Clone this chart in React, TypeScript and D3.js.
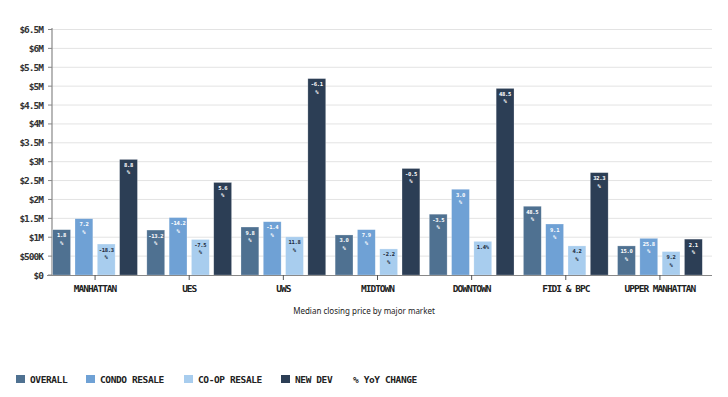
import React from 'react';
import * as d3 from 'd3';

// median closing price in $M
const markets = ['MANHATTAN', 'UES', 'UWS', 'MIDTOWN', 'DOWNTOWN', 'FIDI & BPC', 'UPPER MANHATTAN'];
const series = ['OVERALL', 'CONDO RESALE', 'CO-OP RESALE', 'NEW DEV'];
const overall = [1.2, 1.19, 1.27, 1.06, 1.61, 1.82, 0.77];
const condo = [1.49, 1.52, 1.41, 1.2, 2.27, 1.35, 0.97];
const coop = [0.82, 0.94, 1.01, 0.69, 0.89, 0.77, 0.62];
const newDev = [3.06, 2.45, 5.2, 2.82, 4.94, 2.71, 0.95];
// % YoY change labels
const overallYoY = ['1.8', '-13.2', '9.8', '3.0', '-3.5', '48.5', '15.0'];
const condoYoY = ['7.2', '-14.2', '-1.4', '7.9', '3.0', '9.1', '25.8'];
const coopYoY = ['-18.3', '-7.5', '11.8', '-2.2', '1.4%', '4.2', '9.2'];
const newDevYoY = ['8.8', '5.6', '-6.1', '-0.5', '48.5', '32.3', '2.1'];
const yTicks = [0, 0.5, 1, 1.5, 2, 2.5, 3, 3.5, 4, 4.5, 5, 5.5, 6, 6.5];

const colors = ['#4f7191', '#6fa1d5', '#a8cdee', '#2c3e55'];
const labelColors = ['#fff', '#fff', '#1c2a3a', '#fff'];
const mono = '"DejaVu Sans Mono", monospace';

const values = [overall, condo, coop, newDev];
const yoy = [overallYoY, condoYoY, coopYoY, newDevYoY];

const fmtTick = (v: number) => (v === 0 ? '$0' : v < 1 ? `$${v * 1000}K` : `$${v}M`);

export default function App() {
  const W = 728;
  const H = 397;
  const y = d3.scaleLinear().domain([0, 6.5]).range([275, 29.5]);
  const x0 = d3.scaleBand().domain(markets).range([48, 707]).paddingInner(0.1).paddingOuter(0.05);
  const x1 = d3.scaleBand().domain(series).range([0, x0.bandwidth()]).paddingInner(0.2).paddingOuter(0);

  const legendX = [16, 86, 184, 281];

  return (
    <svg width={W} height={H} style={{ position: 'absolute', left: 0, top: 0, background: '#fff' }}>
      {/* grid */}
      {yTicks.map(t => (
        <g key={t}>
          {t > 0 && <line x1={52} x2={712} y1={y(t)} y2={y(t)} stroke="#e3e3e3" strokeWidth={1} />}
          <line x1={48} x2={52} y1={y(t)} y2={y(t)} stroke="#888" />
          <text x={43} y={y(t) + 3.5} textAnchor="end" fontFamily={mono} fontWeight="bold" fontSize={9.5}
            letterSpacing={-1} fill="#333">{fmtTick(t)}</text>
        </g>
      ))}
      <line x1={52} x2={52} y1={28} y2={275} stroke="#888" strokeWidth={1.2} />

      {/* bars */}
      {markets.map((m, i) => (
        <g key={m} transform={`translate(${x0(m)},0)`}>
          {series.map((s, j) => {
            const v = values[j][i];
            const bx = x1(s)!;
            const bw = x1.bandwidth();
            const top = y(v);
            const lbl = yoy[j][i];
            const cx = bx + bw / 2;
            return (
              <g key={s}>
                <rect x={bx} y={top} width={bw} height={275 - top} fill={colors[j]} stroke="#fff" strokeOpacity={0.4} strokeWidth={0.6} />
                <text x={cx} y={top + 7.5} textAnchor="middle" fontFamily={mono} fontWeight="bold" fontSize={5.5}
                  letterSpacing={-0.3} fill={labelColors[j]}>{lbl}</text>
                {!lbl.endsWith('%') && (
                  <text x={cx} y={top + 15} textAnchor="middle" fontFamily={mono} fontWeight="bold" fontSize={5.5}
                    fill={labelColors[j]}>%</text>
                )}
              </g>
            );
          })}
        </g>
      ))}

      {/* x axis */}
      <line x1={47} x2={712} y1={275.5} y2={275.5} stroke="#888" strokeWidth={1.2} />
      {markets.map(m => {
        const cx = x0(m)! + x0.bandwidth() / 2;
        return (
          <g key={m}>
            <line x1={cx} x2={cx} y1={275} y2={280} stroke="#555" />
            <text x={cx} y={292} textAnchor="middle" fontFamily={mono} fontWeight="bold" fontSize={9.5}
              letterSpacing={-1} fill="#222">{m}</text>
          </g>
        );
      })}

      <text x={364} y={314} textAnchor="middle" fontFamily='"Noto Sans", sans-serif' fontSize={8} fill="#222">
        Median closing price by major market
      </text>

      {/* legend */}
      {series.map((s, j) => (
        <g key={s}>
          <rect x={legendX[j]} y={375} width={9} height={8} fill={colors[j]} />
          <text x={legendX[j] + 14} y={382.5} fontFamily={mono} fontWeight="bold" fontSize={9.5}
            letterSpacing={-0.4} fill="#222">{s}</text>
        </g>
      ))}
      <text x={353} y={382.5} fontFamily={mono} fontWeight="bold" fontSize={9.5} letterSpacing={-0.4} fill="#222">
        % YoY CHANGE
      </text>
    </svg>
  );
}
